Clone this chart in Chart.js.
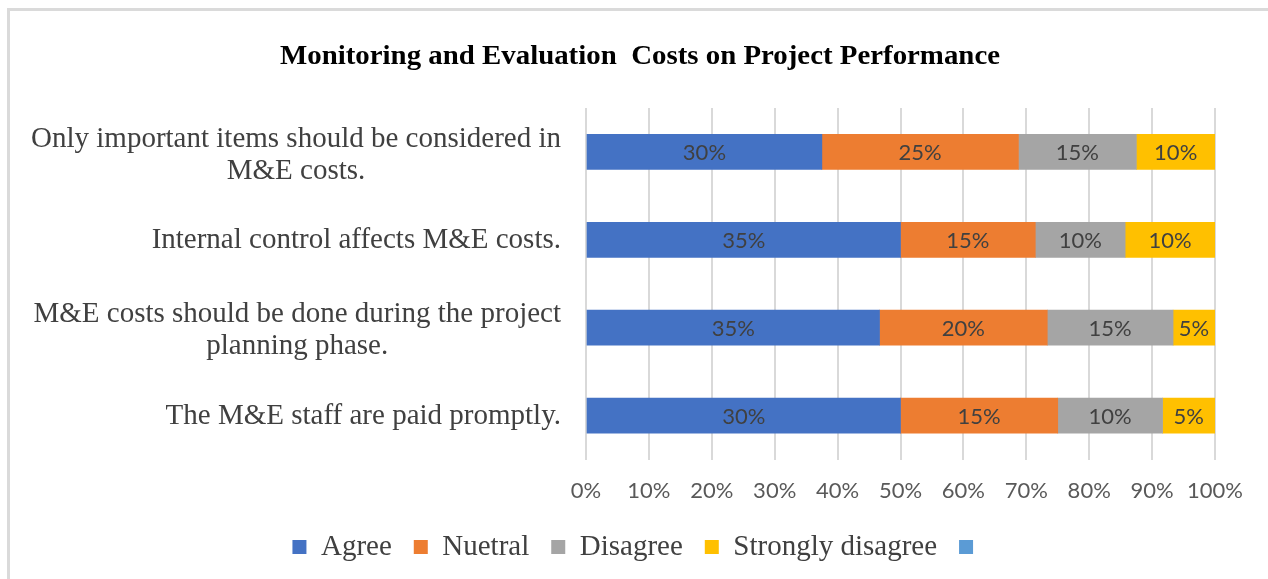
<!DOCTYPE html>
<html>
<head>
<meta charset="utf-8">
<script src="https://cdn.jsdelivr.net/npm/chart.js@4.4.0/dist/chart.umd.min.js"></script>
<style>
    html, body { margin: 0; padding: 0; background: #fff; }
    #frame {
        position: absolute; left: 7px; top: 8px; right: 0; bottom: 0;
        border-top: 3px solid #dadada; border-left: 3px solid #dadada;
    }
    #wrap { position: absolute; left: 0; top: 0; width: 1268px; height: 579px; }
</style>
</head>
<body>
<div id="frame"></div>
<div id="wrap"><canvas id="chart" width="1268" height="579"></canvas></div>
<script>
const chartTitle = 'Monitoring and Evaluation  Costs on Project Performance';
const categories = [
    ['Only important items should be considered in', 'M&E costs.'],
    ['Internal control affects M&E costs.'],
    ['M&E costs should be done during the project', 'planning phase.'],
    ['The M&E staff are paid promptly.']
];
const seriesNames = ['Agree', 'Nuetral', 'Disagree', 'Strongly disagree', ''];
const agree = [30, 35, 35, 30];
const nuetral = [25, 15, 20, 15];
const disagree = [15, 10, 15, 10];
const stronglyDisagree = [10, 10, 5, 5];
const extra = [];
const xTicks = [0, 10, 20, 30, 40, 50, 60, 70, 80, 90, 100];

const colors = ['#4472C4', '#ED7D31', '#A5A5A5', '#FFC000', '#5B9BD5'];
const rawSeries = [agree, nuetral, disagree, stronglyDisagree, extra];

// Barras 100% empilhadas: cada linha é normalizada pelo total
const totals = categories.map((c, i) => agree[i] + nuetral[i] + disagree[i] + stronglyDisagree[i]);

const datasets = rawSeries.map((vals, s) => ({
    label: seriesNames[s],
    data: vals.map((v, i) => v / totals[i] * 100),
    raw: vals,
    backgroundColor: colors[s],
    borderWidth: 0,
    barThickness: 35
}));

// Título (desenhado à parte para centralizar na imagem toda)
const titlePlugin = {
    id: 'titlePlugin',
    afterDraw(chart) {
        const ctx = chart.ctx;
        ctx.save();
        ctx.font = 'bold 28px "Liberation Serif"';
        ctx.fillStyle = '#000';
        ctx.textAlign = 'center';
        ctx.textBaseline = 'middle';
        const w = ctx.measureText(chartTitle).width;
        const sx = 720 / w;
        ctx.translate(640, 57);
        ctx.scale(sx, 1);
        ctx.fillText(chartTitle, 0, 0);
        ctx.restore();
    }
};

// Rótulos dentro das barras
const barLabels = {
    id: 'barLabels',
    afterDatasetsDraw(chart) {
        const ctx = chart.ctx;
        ctx.save();
        ctx.font = '22px Lato';
        ctx.fillStyle = '#404040';
        ctx.textAlign = 'center';
        ctx.textBaseline = 'middle';
        chart.data.datasets.forEach((ds, d) => {
            const meta = chart.getDatasetMeta(d);
            meta.data.forEach((bar, i) => {
                if (ds.raw[i] === undefined) return;
                ctx.fillText(ds.raw[i] + '%', (bar.x + bar.base) / 2, bar.y + 1);
            });
        });
        ctx.restore();
    }
};

// Rótulos das categorias (texto serifado, linhas centralizadas)
const categoryLabels = {
    id: 'categoryLabels',
    afterDraw(chart) {
        const ctx = chart.ctx;
        const yScale = chart.scales.y;
        const rightEdge = 561;
        const lineH = 32;
        ctx.save();
        ctx.font = '29px "Liberation Serif"';
        ctx.fillStyle = '#404040';
        ctx.textAlign = 'center';
        ctx.textBaseline = 'middle';
        categories.forEach((lines, i) => {
            const maxW = Math.max(...lines.map(l => ctx.measureText(l).width));
            const cx = rightEdge - maxW / 2;
            const cy = yScale.getPixelForTick(i) + (lines.length > 1 ? 3 : 1);
            const top = cy - (lines.length - 1) * lineH / 2;
            lines.forEach((l, k) => ctx.fillText(l, cx, top + k * lineH));
        });
        ctx.restore();
    }
};

const ctx = document.getElementById('chart').getContext('2d');
new Chart(ctx, {
    type: 'bar',
    data: {
        labels: categories.map(c => c.join(' ')),
        datasets: datasets
    },
    options: {
        indexAxis: 'y',
        responsive: false,
        animation: false,
        layout: { padding: { left: 65, right: 53, top: 108, bottom: 7.5 } },
        plugins: {
            title: { display: false },
            legend: {
                position: 'bottom',
                labels: {
                    color: '#404040',
                    font: { family: '"Liberation Serif"', size: 29 },
                    boxWidth: 14,
                    boxHeight: 14,
                    padding: 22
                }
            },
            tooltip: { enabled: false }
        },
        scales: {
            x: {
                stacked: true,
                min: 0,
                max: 100,
                afterBuildTicks: scale => { scale.ticks = xTicks.map(v => ({ value: v })); },
                ticks: {
                    callback: v => v + '%',
                    color: '#595959',
                    font: { family: 'Lato', size: 22 },
                    padding: 18,
                    maxRotation: 0
                },
                grid: { color: '#d9d9d9', lineWidth: 2, drawTicks: false },
                border: { display: false },
                afterFit: scale => { scale.height = 51; }
            },
            y: {
                stacked: true,
                ticks: { display: false },
                grid: { display: false },
                border: { display: false },
                afterFit: scale => { scale.width = 521; }
            }
        }
    },
    plugins: [barLabels, categoryLabels, titlePlugin]
});
</script>
</body>
</html>
